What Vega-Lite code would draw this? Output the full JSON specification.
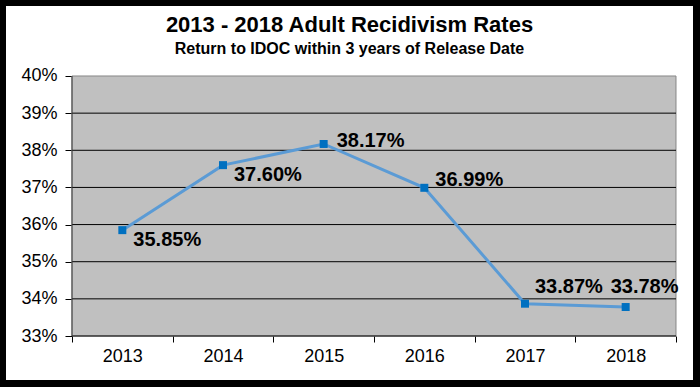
{
  "$schema": "https://vega.github.io/schema/vega-lite/v6.json",
  "width": 687,
  "height": 374,
  "autosize": "none",
  "padding": {"left": 6, "top": 6, "right": 7, "bottom": 7},
  "background": "black",
  "config": {
    "view": {"fill": "white", "stroke": null},
    "font": "Liberation Sans",
    "axis": {"grid": false, "domain": false, "labelFont": "Liberation Sans", "labelFontSize": 18, "labelColor": "black", "tickColor": "black"}
  },
  "title": {
    "text": "2013 - 2018 Adult Recidivism Rates",
    "subtitle": "Return to IDOC within 3 years of Release Date",
    "anchor": "middle",
    "offset": -52,
    "font": "Liberation Sans",
    "fontSize": 22,
    "fontWeight": "bold",
    "color": "black",
    "subtitleFont": "Liberation Sans",
    "subtitleFontSize": 16,
    "subtitleFontWeight": "bold",
    "subtitleColor": "black",
    "subtitlePadding": 4
  },
  "datasets": {
    "rates": [
      {"year": 2013, "rate": 0.3585},
      {"year": 2014, "rate": 0.3760},
      {"year": 2015, "rate": 0.3817},
      {"year": 2016, "rate": 0.3699},
      {"year": 2017, "rate": 0.3387},
      {"year": 2018, "rate": 0.3378}
    ],
    "grid": [
      {"g": 0.34}, {"g": 0.35}, {"g": 0.36}, {"g": 0.37}, {"g": 0.38}, {"g": 0.39}
    ],
    "one": [{}]
  },
  "layer": [
    {
      "data": {"name": "one"},
      "mark": {"type": "rect", "fill": "#c0c0c0", "stroke": "#868686", "strokeWidth": 1},
      "encoding": {
        "x": {
          "datum": 2012.5, "type": "quantitative",
          "scale": {"domain": [2011.8444, 2018.6689], "nice": false, "zero": false},
          "axis": {
            "orient": "bottom",
            "offset": -44,
            "title": null,
            "values": [2012.5, 2013, 2013.5, 2014, 2014.5, 2015, 2015.5, 2016, 2016.5, 2017, 2017.5, 2018, 2018.5],
            "labelExpr": "datum.value % 1 === 0 ? '' + datum.value : ''",
            "tickColor": {"condition": {"test": "datum.value % 1 === 0", "value": "transparent"}, "value": "black"},
            "tickSize": 6,
            "labelPadding": 5,
            "labelFlush": false,
            "labelOverlap": false
          }
        },
        "x2": {"datum": 2018.5},
        "y": {
          "datum": 0.33, "type": "quantitative",
          "scale": {"domain": [0.318154, 0.418846], "nice": false, "zero": false},
          "axis": {
            "orient": "left",
            "offset": -66,
            "title": null,
            "values": [0.33, 0.34, 0.35, 0.36, 0.37, 0.38, 0.39, 0.40],
            "format": ".0%",
            "tickSize": 7,
            "labelPadding": 8,
            "labelFlush": false,
            "labelOverlap": false
          }
        },
        "y2": {"datum": 0.40}
      }
    },
    {
      "data": {"name": "grid"},
      "mark": {"type": "rule", "color": "black", "strokeWidth": 1},
      "encoding": {
        "y": {"field": "g", "type": "quantitative", "axis": {"title": null}},
        "x": {"datum": 2012.5, "type": "quantitative", "axis": {"title": null}},
        "x2": {"datum": 2018.5}
      }
    },
    {
      "data": {"name": "one"},
      "mark": {"type": "rule", "color": "black", "strokeWidth": 1},
      "encoding": {
        "y": {"datum": 0.33, "type": "quantitative", "axis": {"title": null}},
        "x": {"datum": 2012.5, "type": "quantitative", "axis": {"title": null}},
        "x2": {"datum": 2018.5}
      }
    },
    {
      "data": {"name": "one"},
      "mark": {"type": "rule", "color": "#404040", "strokeWidth": 1},
      "encoding": {
        "x": {"datum": 2012.5, "type": "quantitative", "axis": {"title": null}},
        "y": {"datum": 0.33, "type": "quantitative", "axis": {"title": null}},
        "y2": {"datum": 0.40}
      }
    },
    {
      "data": {"name": "rates"},
      "mark": {"type": "line", "color": "#5b9bd5", "strokeWidth": 3},
      "encoding": {
        "x": {"field": "year", "type": "quantitative", "axis": {"title": null}},
        "y": {"field": "rate", "type": "quantitative", "axis": {"title": null}}
      }
    },
    {
      "data": {"name": "rates"},
      "mark": {"type": "point", "shape": "square", "filled": true, "color": "#0070c0", "opacity": 1, "size": 64},
      "encoding": {
        "x": {"field": "year", "type": "quantitative", "axis": {"title": null}},
        "y": {"field": "rate", "type": "quantitative", "axis": {"title": null}}
      }
    },
    {
      "data": {"name": "rates"},
      "transform": [{"filter": "datum.year <= 2014"}],
      "mark": {"type": "text", "align": "left", "baseline": "middle", "dx": 11, "dy": 10, "fontSize": 20, "fontWeight": "bold", "font": "Liberation Sans", "color": "black"},
      "encoding": {
        "x": {"field": "year", "type": "quantitative", "axis": {"title": null}},
        "y": {"field": "rate", "type": "quantitative", "axis": {"title": null}},
        "text": {"field": "rate", "type": "quantitative", "format": ".2%"}
      }
    },
    {
      "data": {"name": "rates"},
      "transform": [{"filter": "datum.year === 2015"}],
      "mark": {"type": "text", "align": "left", "baseline": "middle", "dx": 13, "dy": -3, "fontSize": 20, "fontWeight": "bold", "font": "Liberation Sans", "color": "black"},
      "encoding": {
        "x": {"field": "year", "type": "quantitative", "axis": {"title": null}},
        "y": {"field": "rate", "type": "quantitative", "axis": {"title": null}},
        "text": {"field": "rate", "type": "quantitative", "format": ".2%"}
      }
    },
    {
      "data": {"name": "rates"},
      "transform": [{"filter": "datum.year === 2016"}],
      "mark": {"type": "text", "align": "left", "baseline": "middle", "dx": 11, "dy": -8, "fontSize": 20, "fontWeight": "bold", "font": "Liberation Sans", "color": "black"},
      "encoding": {
        "x": {"field": "year", "type": "quantitative", "axis": {"title": null}},
        "y": {"field": "rate", "type": "quantitative", "axis": {"title": null}},
        "text": {"field": "rate", "type": "quantitative", "format": ".2%"}
      }
    },
    {
      "data": {"name": "rates"},
      "transform": [{"filter": "datum.year === 2017"}],
      "mark": {"type": "text", "align": "left", "baseline": "middle", "dx": 10, "dy": -17, "fontSize": 20, "fontWeight": "bold", "font": "Liberation Sans", "color": "black"},
      "encoding": {
        "x": {"field": "year", "type": "quantitative", "axis": {"title": null}},
        "y": {"field": "rate", "type": "quantitative", "axis": {"title": null}},
        "text": {"field": "rate", "type": "quantitative", "format": ".2%"}
      }
    },
    {
      "data": {"name": "rates"},
      "transform": [{"filter": "datum.year === 2018"}],
      "mark": {"type": "text", "align": "left", "baseline": "middle", "dx": -15, "dy": -20, "fontSize": 20, "fontWeight": "bold", "font": "Liberation Sans", "color": "black"},
      "encoding": {
        "x": {"field": "year", "type": "quantitative", "axis": {"title": null}},
        "y": {"field": "rate", "type": "quantitative", "axis": {"title": null}},
        "text": {"field": "rate", "type": "quantitative", "format": ".2%"}
      }
    }
  ]
}
